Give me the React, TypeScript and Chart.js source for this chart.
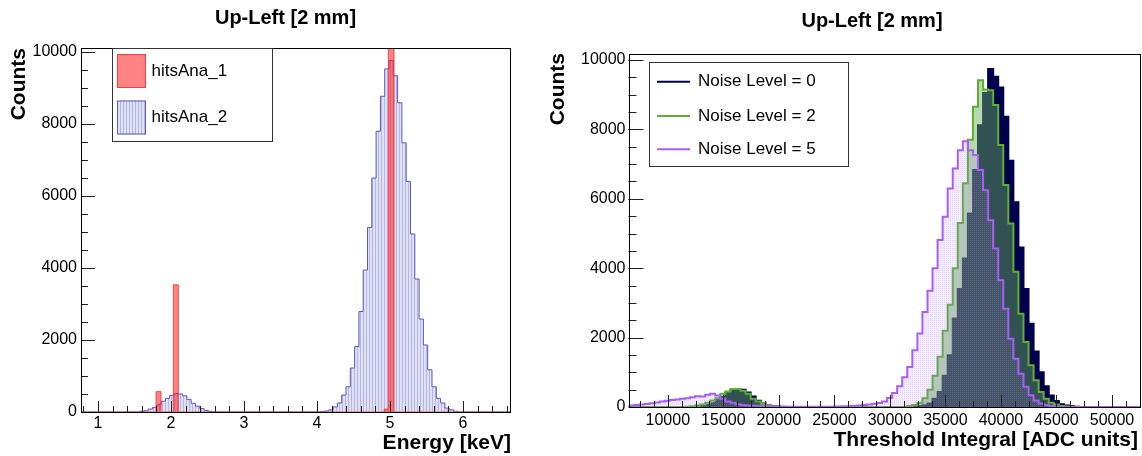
import React, { useEffect, useRef } from 'react';
import { Chart, registerables } from 'chart.js';

Chart.register(...registerables);

const FONT = '"Liberation Sans", Arial, Helvetica, sans-serif';

// ---------------- Left panel: energy spectrum ----------------
const energyTitle = 'Up-Left [2 mm]';
const energyAxisTitle = 'Energy [keV]';
const countsTitle = 'Counts';
const energyMin = 0.767;
const energyMax = 6.657;
const energyMajorTicks = [1, 2, 3, 4, 5, 6];
const energyMinorStep = 0.2;
const energyCountMax = 10100;
const countMajorTicks = [0, 2000, 4000, 6000, 8000, 10000];
const countMinorStep = 500;

const energySeriesNames = ['hitsAna_1', 'hitsAna_2'];

// hitsAna_2 : regular bins, first low edge + width (keV)
const hitsAna2FirstEdge = 0.745;
const hitsAna2BinWidth = 0.0589;
const hitsAna2Counts = [
  0, 0, 0, 0, 0, 0, 0, 0, 0, 0, 0, 0, 0, 0,
  20, 37, 83, 130, 200, 300, 380, 460, 510, 500, 450, 350, 240, 160, 95, 40, 20,
  0, 0, 0, 0, 0, 0, 0, 0, 0, 0, 0, 0, 0, 0, 0, 0, 0, 0, 0, 0, 0, 0, 0, 0, 0,
  10, 30, 60, 140, 250, 470, 700, 1220, 1815, 2790, 3940, 5120, 6490, 7790, 8760, 9520,
  9750, 9330, 8580, 7470, 6400, 4940, 3690, 2580, 1860, 1170, 700, 380, 250, 110, 60, 20,
  0, 0, 0, 0, 0, 0, 0, 0, 0, 0, 0, 0, 0,
];

// hitsAna_1 : a few narrow filled bins (keV low / high edges)
const hitsAna1Low = [1.795, 2.032, 4.92, 4.977];
const hitsAna1High = [1.863, 2.1, 4.977, 5.055];
const hitsAna1Counts = [565, 3530, 80, 12000];

// ---------------- Right panel: threshold integral ----------------
const adcTitle = 'Up-Left [2 mm]';
const adcAxisTitle = 'Threshold Integral [ADC units]';
const adcMin = 6461;
const adcMax = 52522;
const adcMajorTicks = [10000, 15000, 20000, 25000, 30000, 35000, 40000, 45000, 50000];
const adcMinorStep = 1250;
const adcCountMax = 10173;

const noiseNames = ['Noise Level = 0', 'Noise Level = 2', 'Noise Level = 5'];
const adcFirstEdge = 6540;
const adcBinWidth = 455;

const noise0Counts = [
  0, 0, 0, 0, 0, 0, 0, 0, 0, 0, 0, 0, 0,
  10, 30, 60, 110, 200, 290, 400, 480, 510, 500, 420, 300, 180, 100, 50, 30, 10,
  0, 0, 0, 0, 0, 0, 0, 0, 0, 0, 0, 0, 0, 0, 0, 0, 0, 0, 0, 0, 0, 0, 0, 0, 0, 0,
  10, 20, 50, 100, 240, 430, 900, 1490, 2550, 3400, 4280, 5575, 6830, 8120, 9050, 9740,
  9520, 9210, 8364, 7100, 5900, 4600, 3400, 2400, 1600, 1000, 600, 330, 170, 80, 40, 20, 10,
  0, 0, 0, 0, 0, 0, 0, 0, 0, 0, 0, 0,
];

const noise2Counts = [
  0, 0, 0, 0, 0, 0, 0, 0, 0, 0, 0,
  10, 20, 40, 70, 120, 185, 250, 380, 450, 520, 520, 470, 380, 235, 155, 90, 55, 25, 10,
  0, 0, 0, 0, 0, 0, 0, 0, 0, 0, 0, 0, 0, 0, 0, 0, 0, 0, 0, 0, 0, 0, 0, 0, 0,
  30, 60, 120, 250, 500, 900, 1450, 2200, 2950, 4000, 5300, 6450, 7700, 8650, 9420, 9150,
  9130, 8700, 7550, 6400, 5290, 3900, 2690, 1875, 1200, 770, 430, 240, 125, 70, 30, 15,
  0, 0, 0, 0, 0, 0, 0, 0, 0, 0, 0, 0, 0, 0,
];

const noise5Counts = [
  40, 60, 75, 90, 105, 130, 155, 180, 200, 215, 240, 255, 280, 310, 300, 350, 380, 330,
  240, 160, 120, 80, 60, 45, 40, 35, 30, 25, 20, 20,
  15, 10, 10, 10, 10, 10, 10, 10, 10, 10, 10, 15, 20, 25, 30,
  40, 55, 70, 95, 117, 155, 260, 400, 600, 860, 1150, 1635, 2115, 2740, 3350, 4000, 4810,
  5480, 6300, 6870, 7400, 7660, 7400, 7260, 6830, 6250, 5380, 4570, 3650, 2830, 1970,
  1390, 960, 580, 340, 190, 100, 60, 30, 15,
  0, 0, 0, 0, 0, 0, 0, 0, 0, 0, 0, 0, 0, 0, 0, 0,
];

// ---------------- helpers ----------------
type Pt = { x: number; y: number };

function regularHistPoints(first: number, width: number, counts: number[], lo: number, hi: number): Pt[] {
  const pts: Pt[] = [];
  if (first > lo) pts.push({ x: lo, y: 0 });
  counts.forEach((c, i) => pts.push({ x: first + i * width, y: c }));
  const end = first + counts.length * width;
  pts.push({ x: end, y: 0 });
  if (end < hi) pts.push({ x: hi, y: 0 });
  return pts;
}

function sparseHistPoints(lows: number[], highs: number[], counts: number[], lo: number, hi: number): Pt[] {
  const pts: Pt[] = [{ x: lo, y: 0 }];
  for (let i = 0; i < lows.length; i++) {
    pts.push({ x: lows[i], y: counts[i] });
    const adjacent = i + 1 < lows.length && Math.abs(lows[i + 1] - highs[i]) < 1e-9;
    if (!adjacent) pts.push({ x: highs[i], y: 0 });
  }
  pts.push({ x: hi, y: 0 });
  return pts;
}

function stepsIn(from: number, to: number, step: number): number[] {
  const out: number[] = [];
  for (let v = Math.ceil(from / step - 1e-9) * step; v <= to + 1e-9; v += step) out.push(+v.toFixed(6));
  return out;
}

function makePattern(ctx: CanvasRenderingContext2D, w: number, h: number, draw: (g: CanvasRenderingContext2D) => void) {
  const c = document.createElement('canvas');
  c.width = w;
  c.height = h;
  const g = c.getContext('2d')!;
  draw(g);
  return ctx.createPattern(c, 'repeat')!;
}

type TextItem = { text: string; x: number; y: number; font: string; align: CanvasTextAlign; rotate?: number };
type LegendItem = { label: string; y: number; kind: 'box' | 'line'; fill?: any; stroke: string };
type DecorOpts = {
  xMajor: number[];
  xMinor: number[];
  yMajor: number[];
  yMinor: number[];
  xMajorLen: number;
  xMinorLen: number;
  yMajorLen: number;
  yMinorLen: number;
  texts: TextItem[];
  legend: { box: [number, number, number, number]; symX: [number, number]; symH: number; textX: number; items: LegendItem[] };
};

const rootDecor = {
  id: 'rootDecor',
  afterDatasetsDraw(chart: any, _args: any, opts: DecorOpts) {
    const { ctx, chartArea: a } = chart;
    const x = chart.scales.x;
    const y = chart.scales.y;
    ctx.save();
    ctx.strokeStyle = '#222';
    ctx.lineWidth = 1;
    ctx.beginPath();
    const xt = (v: number, len: number) => {
      const px = Math.round(x.getPixelForValue(v)) + 0.5;
      if (px < a.left || px > a.right) return;
      ctx.moveTo(px, a.bottom);
      ctx.lineTo(px, a.bottom - len);
    };
    const yt = (v: number, len: number) => {
      const py = Math.round(y.getPixelForValue(v)) + 0.5;
      if (py < a.top || py > a.bottom) return;
      ctx.moveTo(a.left, py);
      ctx.lineTo(a.left + len, py);
    };
    opts.xMinor.forEach((v) => xt(v, opts.xMinorLen));
    opts.xMajor.forEach((v) => xt(v, opts.xMajorLen));
    opts.yMinor.forEach((v) => yt(v, opts.yMinorLen));
    opts.yMajor.forEach((v) => yt(v, opts.yMajorLen));
    ctx.stroke();
    ctx.strokeStyle = '#000';
    ctx.strokeRect(Math.round(a.left) + 0.5, Math.round(a.top) + 0.5, Math.round(a.right - a.left) - 1, Math.round(a.bottom - a.top));
    ctx.restore();
  },
  afterDraw(chart: any, _args: any, opts: DecorOpts) {
    const ctx: CanvasRenderingContext2D = chart.ctx;
    ctx.save();
    const L = opts.legend;
    const [x1, y1, x2, y2] = L.box;
    ctx.fillStyle = '#fff';
    ctx.fillRect(x1, y1, x2 - x1, y2 - y1);
    ctx.strokeStyle = '#333';
    ctx.lineWidth = 1;
    ctx.strokeRect(x1 + 0.5, y1 + 0.5, x2 - x1, y2 - y1);
    L.items.forEach((it) => {
      if (it.kind === 'box') {
        const top = it.y - L.symH / 2;
        ctx.fillStyle = it.fill;
        ctx.fillRect(L.symX[0], top, L.symX[1] - L.symX[0], L.symH);
        ctx.strokeStyle = it.stroke;
        ctx.lineWidth = 1;
        ctx.strokeRect(L.symX[0] + 0.5, top + 0.5, L.symX[1] - L.symX[0] - 1, L.symH - 1);
      } else {
        ctx.strokeStyle = it.stroke;
        ctx.lineWidth = 2;
        ctx.beginPath();
        ctx.moveTo(L.symX[0], it.y);
        ctx.lineTo(L.symX[1], it.y);
        ctx.stroke();
      }
      ctx.fillStyle = '#000';
      ctx.font = `17px ${FONT}`;
      ctx.textAlign = 'left';
      ctx.textBaseline = 'middle';
      ctx.fillText(it.label, L.textX, it.y);
    });
    opts.texts.forEach((t) => {
      ctx.save();
      ctx.font = t.font;
      ctx.fillStyle = '#000';
      ctx.textAlign = t.align;
      ctx.textBaseline = 'middle';
      ctx.translate(t.x, t.y);
      if (t.rotate) ctx.rotate(t.rotate);
      ctx.fillText(t.text, 0, 0);
      ctx.restore();
    });
    ctx.restore();
  },
};

function axisScales(xmin: number, xmax: number, xMajor: number[], ymax: number, yMajor: number[], yWidth: number, xHeight: number, xPad: number, yPad: number) {
  const tickFont = { family: FONT, size: 16 };
  return {
    x: {
      type: 'linear' as const,
      min: xmin,
      max: xmax,
      afterBuildTicks: (s: any) => {
        s.ticks = xMajor.map((v) => ({ value: v }));
      },
      afterFit: (s: any) => {
        s.height = xHeight;
      },
      grid: { display: false, drawTicks: false },
      border: { display: false },
      ticks: { font: tickFont, color: '#000', padding: xPad, maxRotation: 0, autoSkip: false, callback: (v: any) => String(v) },
    },
    y: {
      type: 'linear' as const,
      min: 0,
      max: ymax,
      afterBuildTicks: (s: any) => {
        s.ticks = yMajor.map((v) => ({ value: v }));
      },
      afterFit: (s: any) => {
        s.width = yWidth;
      },
      grid: { display: false, drawTicks: false },
      border: { display: false },
      ticks: { font: tickFont, color: '#000', padding: yPad, autoSkip: false, callback: (v: any) => String(v) },
    },
  };
}

export default function App() {
  const leftRef = useRef<HTMLCanvasElement>(null);
  const rightRef = useRef<HTMLCanvasElement>(null);

  useEffect(() => {
    const lc = leftRef.current!;
    const rc = rightRef.current!;
    const lctx = lc.getContext('2d')!;
    const rctx = rc.getContext('2d')!;

    const stripes = (g: CanvasRenderingContext2D) => {
      g.fillStyle = 'rgb(182,182,228)';
      g.fillRect(0, 0, 1, 1);
      g.fillStyle = 'rgb(224,224,243)';
      g.fillRect(1, 0, 2, 1);
    };
    const bluePattern = makePattern(lctx, 3, 1, stripes);
    const legendBlue = makePattern(lctx, 3, 1, stripes);
    const purpleDots = makePattern(rctx, 2, 2, (g) => {
      g.fillStyle = 'rgba(165,110,235,0.14)';
      g.fillRect(0, 0, 2, 2);
      g.fillStyle = 'rgba(200,140,250,0.22)';
      g.fillRect(0, 0, 1, 1);
    });

    const redFill = 'rgba(255,30,30,0.55)';
    const redLine = 'rgba(255,40,40,0.8)';
    const blueLine = '#5a5ac2';
    const navy = '#00004f';
    const green = '#5cb032';
    const greenFill = 'rgba(104,172,87,0.47)';
    const purple = '#a95ef8';

    const left = new Chart(lc, {
      type: 'line',
      data: {
        datasets: [
          {
            label: energySeriesNames[1],
            data: regularHistPoints(hitsAna2FirstEdge, hitsAna2BinWidth, hitsAna2Counts, energyMin, energyMax),
            stepped: 'before',
            borderColor: blueLine,
            borderWidth: 1,
            backgroundColor: bluePattern,
            fill: 'origin',
            pointRadius: 0,
            order: 2,
            clip: { left: 0, top: 0, right: 0, bottom: 2 },
          },
          {
            label: energySeriesNames[0],
            data: sparseHistPoints(hitsAna1Low, hitsAna1High, hitsAna1Counts, energyMin, energyMax),
            stepped: 'before',
            borderColor: redLine,
            borderWidth: 1,
            backgroundColor: redFill,
            fill: 'origin',
            pointRadius: 0,
            order: 1,
            clip: { left: 0, top: 0, right: 0, bottom: 2 },
          },
        ],
      } as any,
      options: {
        animation: false,
        responsive: false,
        devicePixelRatio: 1,
        events: [],
        layout: { padding: { left: 0, top: 48, right: 29, bottom: 0 }, autoPadding: false },
        plugins: {
          legend: { display: false },
          title: { display: false },
          tooltip: { enabled: false },
          rootDecor: {
            xMajor: energyMajorTicks,
            xMinor: stepsIn(energyMin, energyMax, energyMinorStep),
            yMajor: countMajorTicks,
            yMinor: stepsIn(0, energyCountMax, countMinorStep),
            xMajorLen: 11,
            xMinorLen: 6,
            yMajorLen: 14,
            yMinorLen: 7,
            texts: [
              { text: energyTitle, x: 285.5, y: 18, font: `bold 20px ${FONT}`, align: 'center' },
              { text: energyAxisTitle, x: 511, y: 443, font: `bold 21px ${FONT}`, align: 'right' },
              { text: countsTitle, x: 19, y: 48, font: `bold 21px ${FONT}`, align: 'right', rotate: -Math.PI / 2 },
            ],
            legend: {
              box: [112, 48, 272, 141],
              symX: [117, 146],
              symH: 34,
              textX: 151.5,
              items: [
                { label: energySeriesNames[0], y: 71, kind: 'box', fill: redFill, stroke: redLine },
                { label: energySeriesNames[1], y: 117.5, kind: 'box', fill: legendBlue, stroke: blueLine },
              ],
            },
          },
        } as any,
        scales: axisScales(energyMin, energyMax, energyMajorTicks, energyCountMax, countMajorTicks, 81, 44, 1.5, 4) as any,
      },
      plugins: [rootDecor],
    });

    const right = new Chart(rc, {
      type: 'line',
      data: {
        datasets: [
          {
            label: noiseNames[0],
            data: regularHistPoints(adcFirstEdge, adcBinWidth, noise0Counts, adcMin, adcMax),
            stepped: 'before',
            borderColor: navy,
            borderWidth: 2,
            backgroundColor: navy,
            fill: 'origin',
            pointRadius: 0,
            order: 3,
            clip: { left: 0, top: 0, right: 0, bottom: 2 },
          },
          {
            label: noiseNames[1],
            data: regularHistPoints(adcFirstEdge, adcBinWidth, noise2Counts, adcMin, adcMax),
            stepped: 'before',
            borderColor: green,
            borderWidth: 2,
            backgroundColor: greenFill,
            fill: 'origin',
            pointRadius: 0,
            order: 2,
            clip: { left: 0, top: 0, right: 0, bottom: 2 },
          },
          {
            label: noiseNames[2],
            data: regularHistPoints(adcFirstEdge, adcBinWidth, noise5Counts, adcMin, adcMax),
            stepped: 'before',
            borderColor: purple,
            borderWidth: 2,
            backgroundColor: purpleDots,
            fill: 'origin',
            pointRadius: 0,
            order: 1,
            clip: { left: 0, top: 0, right: 0, bottom: 2 },
          },
        ],
      } as any,
      options: {
        animation: false,
        responsive: false,
        devicePixelRatio: 1,
        events: [],
        layout: { padding: { left: 0, top: 54, right: 2, bottom: 0 }, autoPadding: false },
        plugins: {
          legend: { display: false },
          title: { display: false },
          tooltip: { enabled: false },
          rootDecor: {
            xMajor: adcMajorTicks,
            xMinor: stepsIn(adcMin, adcMax, adcMinorStep),
            yMajor: countMajorTicks,
            yMinor: stepsIn(0, adcCountMax, countMinorStep),
            xMajorLen: 12,
            xMinorLen: 6,
            yMajorLen: 15,
            yMinorLen: 8,
            texts: [
              { text: adcTitle, x: 332, y: 21, font: `bold 20px ${FONT}`, align: 'center' },
              { text: adcAxisTitle, x: 598, y: 440, font: `bold 21px ${FONT}`, align: 'right' },
              { text: countsTitle, x: 18, y: 53, font: `bold 21px ${FONT}`, align: 'right', rotate: -Math.PI / 2 },
            ],
            legend: {
              box: [109, 62, 308, 166],
              symX: [117, 150],
              symH: 30,
              textX: 158,
              items: [
                { label: noiseNames[0], y: 81.7, kind: 'line', stroke: navy },
                { label: noiseNames[1], y: 116, kind: 'line', stroke: green },
                { label: noiseNames[2], y: 149.3, kind: 'line', stroke: purple },
              ],
            },
          },
        } as any,
        scales: axisScales(adcMin, adcMax, adcMajorTicks, adcCountMax, countMajorTicks, 88.5, 49, 3.7, 3) as any,
      },
      plugins: [rootDecor],
    });

    return () => {
      left.destroy();
      right.destroy();
    };
  }, []);

  return (
    <div style={{ position: 'absolute', left: 0, top: 0, width: 1142, height: 456, background: '#fff', overflow: 'hidden' }}>
      <canvas ref={leftRef} width={540} height={456} style={{ position: 'absolute', left: 0, top: 0, width: 540, height: 456 }} />
      <canvas ref={rightRef} width={602} height={456} style={{ position: 'absolute', left: 540, top: 0, width: 602, height: 456 }} />
    </div>
  );
}
